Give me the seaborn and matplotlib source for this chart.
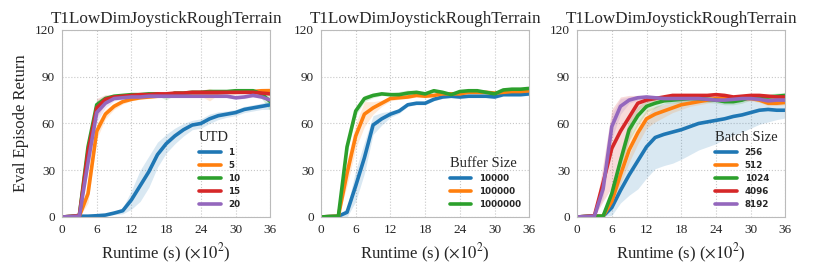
import numpy as np
import pandas as pd
import matplotlib
matplotlib.use("Agg")
import matplotlib.pyplot as plt
import seaborn as sns

# runtime in units of 100 s
runtime = [0, 1.5, 3, 4.5, 6, 7.5, 9, 10.5, 12, 13.5, 15, 16.5, 18, 19.5, 21, 22.5,
           24, 25.5, 27, 28.5, 30, 31.5, 33, 34.5, 36]

# --- UTD sweep ---
utd_labels = ["1", "5", "10", "15", "20"]
utd_1 = [0, 0.3, 0.5, 0.5, 0.8, 1.2, 2.5, 4, 11, 20, 29, 40, 47, 52, 56, 59, 60, 63, 65, 66, 67, 69, 70, 71, 72]
utd_5 = [0, 0.3, 0.5, 15, 55, 66, 71, 74, 75.5, 76.5, 77, 77.5, 78, 78.5, 79, 79, 79.5, 78.5, 79.5, 80, 80, 80.5, 80.5, 81, 81]
utd_10 = [0, 0.3, 1, 45, 72, 76, 77.5, 78, 78.5, 78.5, 79, 79, 77.5, 79.5, 79.5, 80, 80, 80.5, 80.5, 80.5, 81, 81, 81, 79, 74]
utd_15 = [0, 0.3, 1, 42, 70, 75.5, 77, 77.5, 78, 78.5, 78.5, 79, 79, 79.5, 79.5, 80, 80, 80, 80, 80, 80, 80, 80, 79.5, 79]
utd_20 = [0, 0.3, 0.5, 35, 67, 73, 76, 76.5, 77, 77, 77.5, 77.5, 77.5, 77.5, 77.5, 77.5, 77.5, 77.5, 77.5, 77.5, 76.5, 77, 78, 77, 75]
utd_1_sd = [0, 0, 0, 0, 0, 0.5, 1, 2, 6, 10, 10, 8, 6, 5, 4, 3, 3, 3, 2.5, 2, 2, 2, 2, 2, 3]
utd_5_sd = [0, 0, 0.5, 6, 5, 3, 2, 1.5, 1, 1, 1, 1, 1, 1, 1, 1, 2, 4, 1, 1, 1, 1, 1, 1.5, 2]
utd_10_sd = [0, 0, 0.5, 3, 3, 2, 1, 1, 1, 1, 1, 1, 2.5, 1, 1, 1, 1, 1, 1, 1, 1, 1, 1, 3, 6]
utd_15_sd = [0, 0, 0.5, 5, 6, 3, 1, 1, 1, 1, 1, 1, 1, 1, 1, 1, 1, 1, 1, 1, 1, 1, 1, 1, 1]
utd_20_sd = [0, 0, 0.5, 6, 6, 3, 1.5, 1, 1, 1, 1, 1, 1, 1, 1, 1, 1, 1, 1, 1, 1, 1, 1, 1, 1]

# --- buffer size sweep ---
buf_labels = ["10000", "100000", "1000000"]
buf_1e4 = [0, 0.3, 0.5, 3, 20, 38, 59, 63, 66, 68, 72, 73, 73, 75.5, 77, 77.5, 77, 77.5, 77.5, 77.5, 77, 78.5, 78.5, 78.5, 79]
buf_1e5 = [0, 0.3, 0.5, 28, 52, 66, 70, 73, 76, 76.5, 77, 78, 77.5, 78, 79, 79, 79, 80, 80, 80, 79.5, 80, 80.5, 80.5, 81]
buf_1e6 = [0, 0.3, 0.5, 45, 68, 76, 78, 79, 78.5, 78.5, 79.5, 80, 79, 81, 80, 78.5, 80.5, 81, 81, 80, 79, 81.5, 82, 82, 82.5]
buf_1e4_sd = [0, 0, 0.3, 3, 10, 10, 6, 4, 2, 1.5, 1, 1, 1, 1, 1, 1, 1, 1, 1, 1, 1, 1, 1, 1, 1]
buf_1e5_sd = [0, 0, 0.3, 8, 8, 8, 4, 2, 1.5, 1, 1, 1, 1, 1, 1, 1, 1, 1, 1, 1, 1, 1, 1, 1, 1]
buf_1e6_sd = [0, 0, 0.3, 4, 3, 2, 1.5, 1, 1, 2, 2, 1, 1, 1, 1, 1, 1, 1, 1, 1, 1, 1, 1, 1, 1]

# --- batch size sweep ---
bs_labels = ["256", "512", "1024", "4096", "8192"]
bs_256 = [0, 0.3, 0.5, 0.5, 6, 17, 27, 36, 45, 51, 53, 54.5, 56, 58, 60, 61, 62, 63, 64.5, 65.5, 67, 68.5, 69, 68.5, 68.5]
bs_512 = [0, 0.3, 0.5, 0.5, 10, 27, 43, 54, 63, 66, 68, 70, 72, 73, 74, 75, 76, 76, 76, 76, 76, 75, 73, 73, 73.5]
bs_1024 = [0, 0.3, 0.5, 0.5, 15, 36, 56, 65, 71, 73, 74.5, 75, 75.5, 76, 76, 75.5, 75, 74, 74, 75, 77, 77, 77, 77.5, 78]
bs_4096 = [0, 0.3, 0.8, 22, 44, 55, 64, 73, 75, 76, 77, 78, 78, 78, 78, 78, 78.5, 78, 77, 77.5, 78, 78, 77.5, 77, 77]
bs_8192 = [0, 0.3, 0.5, 18, 58, 71, 75, 76.5, 77, 76.5, 76, 76, 76, 76, 76, 75.5, 75, 75, 75.5, 76, 76, 75.5, 74.5, 75, 75]
bs_256_sd = [0, 0, 0, 0, 5, 8, 13, 18, 20, 20, 20, 20, 19, 18, 17, 16, 15, 13, 12, 11, 10, 9, 8, 6, 5]
bs_512_sd = [0, 0, 0, 0, 4, 6, 8, 7, 6, 5, 4, 3, 3, 2, 2, 2, 1.5, 1.5, 1.5, 1.5, 1.5, 1.5, 1.5, 1.5, 1.5]
bs_1024_sd = [0, 0, 0, 0, 4, 6, 7, 6, 4, 3, 2, 2, 2, 2, 2, 2, 2, 2, 2, 2, 2, 2, 2, 2, 2]
bs_4096_sd = [0, 0, 0.5, 12, 25, 22, 14, 5, 2, 1.5, 1, 1, 1, 1, 1, 1, 1, 1, 1, 1, 1, 1, 1, 1, 1]
bs_8192_sd = [0, 0, 0.5, 6, 8, 5, 2, 1.5, 1, 1, 1, 1, 1, 1, 1, 1, 1, 1, 1, 1, 1, 1, 1, 1, 1]

panels = [
    ("UTD", utd_labels, [utd_1, utd_5, utd_10, utd_15, utd_20],
     [utd_1_sd, utd_5_sd, utd_10_sd, utd_15_sd, utd_20_sd]),
    ("Buffer Size", buf_labels, [buf_1e4, buf_1e5, buf_1e6],
     [buf_1e4_sd, buf_1e5_sd, buf_1e6_sd]),
    ("Batch Size", bs_labels, [bs_256, bs_512, bs_1024, bs_4096, bs_8192],
     [bs_256_sd, bs_512_sd, bs_1024_sd, bs_4096_sd, bs_8192_sd]),
]

sns.set_style("whitegrid", {"grid.linestyle": ":", "grid.color": "#c8c8c8",
                            "axes.edgecolor": "#bbbbbb"})
plt.rcParams["font.family"] = ["Liberation Serif", "DejaVu Serif"]
plt.rcParams["mathtext.fontset"] = "stix"

fig = plt.figure(figsize=(8.22, 2.75), dpi=100)
lefts = [0.0754, 0.3905, 0.702]
legend_x = [0.895, 1.0, 1.0]
palette = sns.color_palette("tab10")

for i, (name, labels, means, sds) in enumerate(panels):
    ax = fig.add_axes([lefts[i], 0.211, 0.2535, 0.68])
    x = np.array(runtime)
    for j, (lab, m, s) in enumerate(zip(labels, means, sds)):
        m = np.array(m)
        s = np.array(s)
        sns.lineplot(x=x, y=m, ax=ax, color=palette[j], linewidth=2.6, label=lab)
        ax.fill_between(x, m - s, m + s, color=palette[j], alpha=0.17, linewidth=0)
    ax.set_xlim(0, 36)
    ax.set_ylim(0, 120)
    ax.set_xticks(range(0, 37, 6))
    ax.set_yticks(range(0, 121, 30))
    ax.tick_params(labelsize=9.5, length=3, color="#bbbbbb", pad=2)
    ax.set_title("T1LowDimJoystickRoughTerrain", fontsize=12.3, pad=5)
    ax.set_xlabel(r"Runtime (s) ($\times 10^2$)", fontsize=12)
    if i == 0:
        ax.set_ylabel("Eval Episode Return", fontsize=12)
    else:
        ax.set_ylabel("")
    leg = ax.legend(title=name, loc="lower right", bbox_to_anchor=(legend_x[i], 0.0),
                    frameon=False,
                    prop={"family": "DejaVu Sans", "size": 6.3, "weight": "bold"},
                    title_fontsize=10.5, handlelength=2.5, labelspacing=0.45,
                    borderaxespad=0.5, handletextpad=0.9)
    leg._legend_box.align = "left"

fig.savefig("out.png", dpi=100)
